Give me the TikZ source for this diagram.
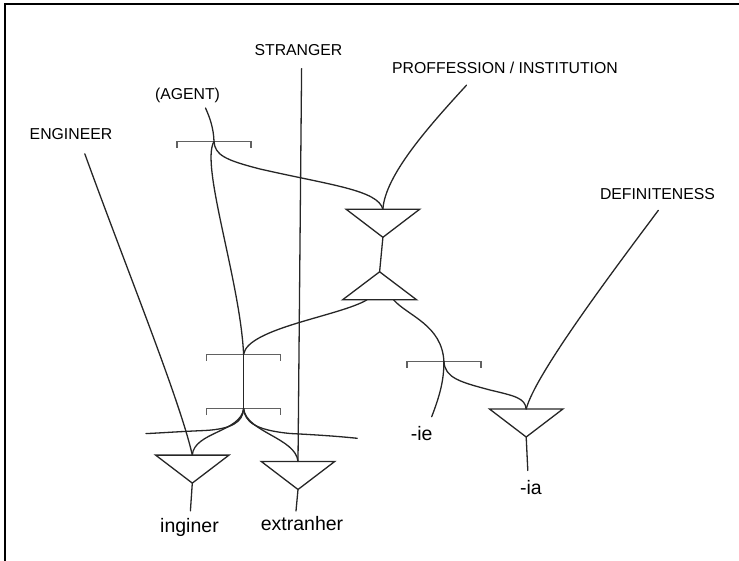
\documentclass[tikz,border=0pt]{standalone}
\usepackage{fontspec}
\setmainfont{Liberation Sans}
\tikzset{
  ln/.style={line width=1.3pt, draw=black!85, line cap=round},
  brk/.style={line width=1.3pt, draw=black!62},
  capl/.style={font=\fontsize{15.8}{19}\selectfont, anchor=base, inner sep=0pt, text=black},
  morph/.style={font=\fontsize{19.5}{23}\selectfont, anchor=base, inner sep=0pt, text=black},
  pics/dtri/.style={code={
    \draw[ln, line cap=butt] (-36.7,0) -- (36.7,0) -- (0,28) -- cycle;
    \coordinate (-top) at (0,0);
    \coordinate (-apex) at (0,28);}},
  pics/utri/.style={code={
    \draw[ln, line cap=butt] (-37,0) -- (37,0) -- (0,-28) -- cycle;
    \coordinate (-apex) at (0,-28);
    \coordinate (-bl) at (-12.6,0);
    \coordinate (-br) at (13.9,0);}},
  pics/bracket/.style={code={
    \draw[brk] (-37,6.5) -- (-37,0) -- (37,0) -- (37,6.5);
    \coordinate (-c) at (0,0);}},
}
\begin{document}
\begin{tikzpicture}[x=1pt, y=-1pt]
\useasboundingbox (0,0) rectangle (739,561);
% frame
\draw[line width=2pt, black] (5,561) -- (5,4.3) -- (739,4.3);

% labels
\node[capl] (stranger) at (298.5,56) {STRANGER};
\node[capl] (agent) at (187.5,100) {(AGENT)};
\node[capl] (engineer) at (71,140) {ENGINEER};
\node[capl] (prof) at (505,73.3) {PROFFESSION / INSTITUTION};
\node[capl] (defin) at (657.5,200) {DEFINITENESS};
\node[morph] (inginer) at (189.5,532) {inginer};
\node[morph] (extranher) at (302,530) {extranher};
\node[morph] (ie) at (421.7,440.7) {-ie};
\node[morph] (ia) at (531,494) {-ia};

% line ends
\coordinate (strangerEnd) at (301.6,68.7);
\coordinate (agentEnd) at (205.5,108);
\coordinate (engineerEnd) at (84.8,153.8);
\coordinate (profEnd) at (466.5,85.2);
\coordinate (definEnd) at (658.3,210.4);
\coordinate (leftEnd) at (146,433.6);
\coordinate (rightEnd) at (357.2,438.3);
\coordinate (ieEnd) at (431.7,416.7);
\coordinate (ingStem) at (190.4,510.9);
\coordinate (extStem) at (296,510.9);
\coordinate (iaStem) at (527.8,470.5);

% brackets
\pic (b1) at (214,141.5) {bracket};
\pic (b2) at (243.6,354.2) {bracket};
\pic (b3) at (243.6,408.6) {bracket};
\pic (b4) at (443.9,361.4) {bracket};

% triangles
\pic (tP) at (382.9,209.3) {dtri};
\pic (tU) at (379.6,299.8) {utri};
\pic (tE) at (192.3,455.1) {dtri};
\pic (tX) at (298,461.5) {dtri};
\pic (tA) at (526.2,409) {dtri};

% connectors
\draw[ln] (agentEnd) .. controls (210,118) and (213.5,128) .. (b1-c);
\draw[ln] (b1-c) .. controls (200,165) and (240,280) .. (b2-c);
\draw[ln] (b1-c) .. controls (215,155) and (225,160) .. (260,169)
          .. controls (330,185) and (378,190) .. (tP-top);
\draw[ln] (profEnd) .. controls (430,125) and (385,175) .. (tP-top);
\draw[ln] (strangerEnd) -- (tX-top);
\draw[ln] (engineerEnd) .. controls (125,265) and (180,400) .. (tE-top);
\draw[ln] (definEnd) .. controls (610,275) and (535,375) .. (tA-top);
\draw[ln] (tP-apex) -- (tU-apex);
\draw[ln] (tU-bl) .. controls (340,316) and (248,328) .. (b2-c);
\draw[ln] (tU-br) .. controls (408,316) and (442,325) .. (b4-c);
\draw[ln] (b2-c) -- (b3-c);
\draw[ln] (b3-c) .. controls (243,422) and (232,429) .. (205,430.5)
          .. controls (180,431.5) and (160,433) .. (leftEnd);
\draw[ln] (b3-c) .. controls (241,432) and (194,432) .. (tE-top);
\draw[ln] (b3-c) .. controls (246,432) and (296,438) .. (tX-top);
\draw[ln] (b3-c) .. controls (245,422) and (255,430) .. (290,433.5)
          .. controls (320,435) and (340,436.5) .. (rightEnd);
\draw[ln] (b4-c) .. controls (444,380) and (440,395) .. (ieEnd);
\draw[ln] (b4-c) .. controls (445,378) and (460,382) .. (490,390)
          .. controls (515,396) and (525,398) .. (tA-top);
\draw[ln] (tE-apex) -- (ingStem);
\draw[ln] (tX-apex) -- (extStem);
\draw[ln] (tA-apex) -- (iaStem);
\end{tikzpicture}
\end{document}
